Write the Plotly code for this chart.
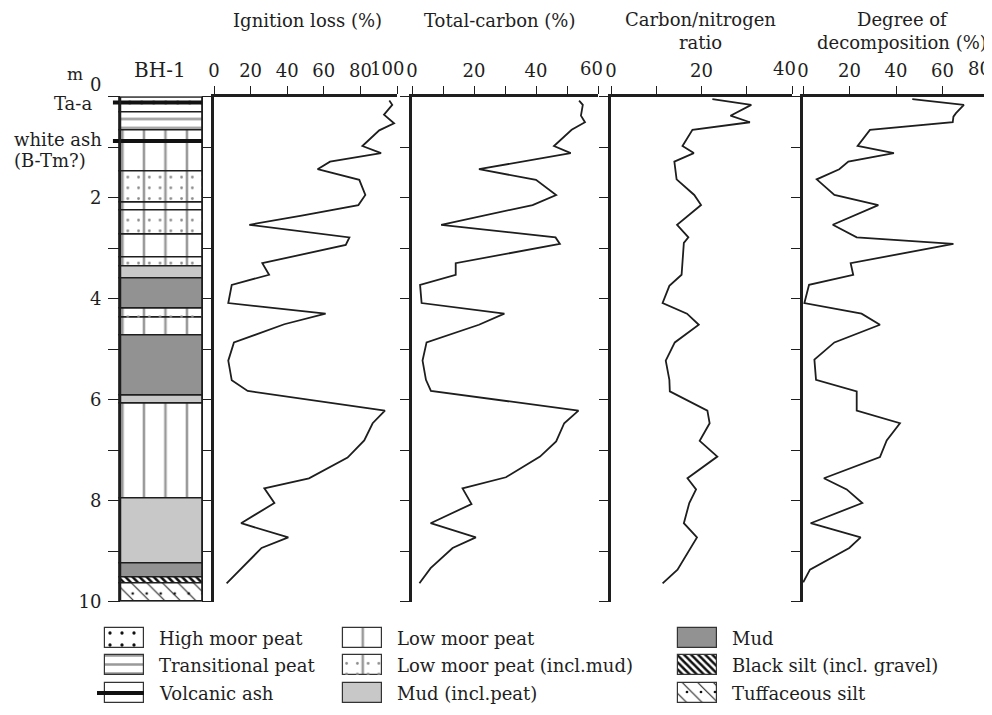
import plotly.graph_objects as go

W, H = 992, 715           # target picture size in the browser
OX, OY = 8, 8             # page body margin offset of the plot div
FW, FH = W - OX, H - OY
def px(x): return (x - OX) / FW
def py(y): return 1 - (y - OY) / FH

# ---------------- data ----------------
ign_depth = [0.08, 0.165, 0.36, 0.53, 0.67, 0.98, 1.12, 1.29, 1.44, 1.65, 1.95, 2.15, 2.36, 2.54, 2.79, 2.94,
             3.30, 3.53, 3.73, 4.09, 4.30, 4.51, 4.87, 5.23, 5.62, 5.83, 6.22, 6.47, 6.81, 7.15, 7.56, 7.76,
             8.05, 8.45, 8.73, 8.94, 9.64]
ign_val = [95.8, 97.4, 92.9, 98.4, 90.3, 81.1, 91.3, 63.4, 56.6, 79.4, 82.7, 78.9, 47.9, 19.3, 74.0, 72.0,
           26.4, 30.1, 9.7, 7.8, 61.0, 38.4, 10.9, 7.8, 9.7, 18.4, 93.4, 86.7, 82.1, 73.0, 51.9, 27.5,
           33.0, 14.8, 40.6, 26.0, 6.9]

tc_depth = [0.08, 0.165, 0.38, 0.51, 0.66, 0.98, 1.12, 1.44, 1.65, 1.95, 2.15, 2.54, 2.79, 2.92, 3.30, 3.53,
            3.73, 4.09, 4.30, 4.52, 4.87, 5.23, 5.61, 5.83, 6.22, 6.47, 6.83, 7.13, 7.54, 7.76, 8.07, 8.45,
            8.73, 8.94, 9.34, 9.64]
tc_val = [53.9, 55.1, 54.5, 55.8, 51.5, 45.8, 51.2, 21.6, 40.0, 46.5, 38.9, 9.4, 46.3, 47.7, 14.1, 14.1,
          2.6, 3.1, 29.8, 21.6, 4.7, 3.4, 4.5, 6.1, 53.7, 49.1, 46.5, 41.3, 30.3, 16.3, 19.2, 6.0,
          20.6, 13.1, 6.0, 2.4]

cn_depth = [0.05, 0.165, 0.38, 0.51, 0.66, 0.98, 1.12, 1.29, 1.64, 1.95, 2.15, 2.54, 2.79, 2.90, 3.53, 3.75,
            4.09, 4.30, 4.52, 4.87, 5.23, 5.61, 5.84, 6.22, 6.47, 6.82, 7.13, 7.56, 7.78, 8.05, 8.45, 8.73,
            9.37, 9.64]
cn_val = [22.4, 31.0, 26.4, 30.7, 18.0, 15.8, 18.3, 14.0, 14.5, 18.4, 19.9, 14.6, 17.1, 16.1, 15.6, 12.9,
          11.4, 16.8, 19.4, 14.1, 12.1, 12.9, 13.0, 21.3, 21.8, 19.6, 23.5, 16.9, 18.8, 17.3, 16.1, 19.0,
          14.7, 11.4]

dd_depth = [0.05, 0.165, 0.33, 0.40, 0.51, 0.66, 0.98, 1.12, 1.29, 1.44, 1.64, 1.95, 2.15, 2.54, 2.79, 2.92,
            3.30, 3.53, 3.73, 4.09, 4.30, 4.52, 4.87, 5.21, 5.61, 5.84, 6.22, 6.47, 6.81, 7.14, 7.56, 7.78,
            8.05, 8.45, 8.73, 8.94, 9.37, 9.62]
dd_val = [47.0, 69.2, 65.8, 64.7, 64.4, 28.8, 23.5, 39.1, 19.5, 15.6, 5.9, 13.5, 32.4, 12.8, 23.1, 64.7,
          20.5, 21.6, 2.6, 0.6, 25.2, 33.1, 13.5, 4.9, 5.6, 23.1, 23.1, 41.7, 36.0, 33.1, 9.0, 18.8,
          25.5, 3.3, 24.8, 19.9, 3.0, 0.1]

litho_top = [0.00, 0.31, 0.68, 1.48, 2.09, 2.25, 2.74, 3.18, 3.36, 3.60, 4.19, 4.37, 4.74, 5.93, 6.07,
             7.97, 9.24, 9.52, 9.65]
litho_bottom = [0.31, 0.68, 1.48, 2.09, 2.25, 2.74, 3.18, 3.36, 3.60, 4.19, 4.37, 4.74, 5.93, 6.07, 7.97,
                9.24, 9.52, 9.65, 10.00]
litho_type = ['High moor peat', 'Transitional peat', 'Low moor peat', 'Low moor peat (incl.mud)',
              'Low moor peat', 'Low moor peat (incl.mud)', 'Low moor peat', 'Low moor peat (incl.mud)',
              'Mud (incl.peat)', 'Mud', 'Low moor peat (incl.mud)', 'Low moor peat', 'Mud',
              'Mud (incl.peat)', 'Low moor peat', 'Mud (incl.peat)', 'Mud', 'Black silt (incl. gravel)',
              'Tuffaceous silt']

ash_depth = [0.12, 0.88]

legend_items = ['High moor peat', 'Transitional peat', 'Volcanic ash',
                'Low moor peat', 'Low moor peat (incl.mud)', 'Mud (incl.peat)',
                'Mud', 'Black silt (incl. gravel)', 'Tuffaceous silt']

depth_ticks = list(range(0, 11))
depth_ticktext = ['', '', '2', '', '4', '', '6', '', '8', '', '10']

# axis ticks; the last label of each panel is written separately (shifted left, as in the original)
ign_ticks = [0, 20, 40, 60, 80, 100]
ign_ticktext = ['0', '20', '40', '60', '80', '']
tc_ticks = [0, 10, 20, 30, 40, 50, 60]
tc_ticktext = ['0', '', '20', '', '40', '', '']
cn_ticks = [0, 10, 20, 30, 40]
cn_ticktext = ['0', '', '20', '', '']
dd_ticks = [0, 20, 40, 60, 80]
dd_ticktext = ['0', '20', '40', '60', '']
end_labels = ['100', '60', '40', '80']
end_shift = [-10, -7, -8, -10]

# ---------------- styles ----------------
FONT = 'DejaVu Serif'
INK = '#1e1e1e'
GRAYLINE = '#9a9a9a'
styles = {
    'High moor peat': dict(bg='white', shape='.', fg='#111', size=12, sol=0.06),
    'Transitional peat': dict(bg='white', shape='-', fg=GRAYLINE, size=9, sol=0.28),
    'Low moor peat': dict(bg='white', shape='|', fg=GRAYLINE, size=21.5, sol=0.12),
    'Low moor peat (incl.mud)': dict(bg='white', shape='|', fg=GRAYLINE, size=21.5, sol=0.12,
                                     dots=dict(shape='.', fg='#8a8a8a', size=10.75, sol=0.05)),
    'Mud (incl.peat)': dict(bg='#c8c8c8', shape=''),
    'Mud': dict(bg='#929292', shape=''),
    'Black silt (incl. gravel)': dict(bg='white', shape='\\', fg='#111', size=5, sol=0.5),
    'Tuffaceous silt': dict(bg='white', shape='\\', fg='#222', size=11, sol=0.1,
                            dots=dict(shape='.', fg='#111', size=14, sol=0.03)),
    'Volcanic ash': dict(bg='white', shape=''),
}

def pattern(st):
    if not st.get('shape'):
        return dict(shape='')
    return dict(shape=st['shape'], fgcolor=st['fg'], bgcolor=st['bg'], size=st['size'],
                solidity=st['sol'])

fig = go.Figure()

# ---------------- lithology column ----------------
order = []
for t in litho_type:
    if t not in order:
        order.append(t)
for t in order:
    idx = [i for i, tt in enumerate(litho_type) if tt == t]
    tops = [litho_top[i] for i in idx]
    thick = [litho_bottom[i] - litho_top[i] for i in idx]
    st = styles[t]
    fig.add_trace(go.Bar(x=[0.5] * len(idx), y=thick, base=tops, width=1, xaxis='x', yaxis='y',
                         marker=dict(color=st['bg'], line=dict(color=INK, width=1.5), pattern=pattern(st)),
                         name=t, hoverinfo='skip'))
    if 'dots' in st:
        d = st['dots']
        fig.add_trace(go.Bar(x=[0.5] * len(idx), y=thick, base=tops, width=1, xaxis='x', yaxis='y',
                             marker=dict(color='rgba(0,0,0,0)', line=dict(width=0),
                                         pattern=dict(shape=d['shape'], fgcolor=d['fg'],
                                                      bgcolor='rgba(0,0,0,0)', size=d['size'],
                                                      solidity=d['sol'])),
                             hoverinfo='skip'))
# ash layers
for a in ash_depth:
    fig.add_trace(go.Scatter(x=[-0.085, 1.0], y=[a, a], mode='lines', xaxis='x', yaxis='y',
                             line=dict(color='#111', width=4), hoverinfo='skip'))

# column frame
fig.add_shape(type='rect', xref='x', yref='y', x0=0, x1=1, y0=litho_top[0], y1=litho_bottom[-1],
              line=dict(color=INK, width=2.5), fillcolor='rgba(0,0,0,0)')

# ---------------- curves ----------------
series = [(ign_val, ign_depth, 'x2', 'y2'), (tc_val, tc_depth, 'x3', 'y3'),
          (cn_val, cn_depth, 'x4', 'y4'), (dd_val, dd_depth, 'x5', 'y5')]
for xv, yv, xa, ya in series:
    fig.add_trace(go.Scatter(x=xv, y=yv, mode='lines', xaxis=xa, yaxis=ya,
                             line=dict(color=INK, width=1.8), hoverinfo='skip'))

# ---------------- legend (drawn as a small subplot) ----------------
col_left = [105, 343, 678]
row_top = [628, 655, 683]
sw_w, sw_h = 39, 20
for i, name in enumerate(legend_items):
    c, r = i // 3, i % 3
    st = styles[name]
    cx = col_left[c] + sw_w / 2
    fig.add_trace(go.Bar(x=[cx], y=[sw_h], base=[row_top[r]], width=sw_w, xaxis='x6', yaxis='y6',
                         marker=dict(color=st['bg'], line=dict(color='#333', width=1.2),
                                     pattern=pattern(st)), hoverinfo='skip'))
    if 'dots' in st:
        d = st['dots']
        fig.add_trace(go.Bar(x=[cx], y=[sw_h], base=[row_top[r]], width=sw_w, xaxis='x6', yaxis='y6',
                             marker=dict(color='rgba(0,0,0,0)', line=dict(width=0),
                                         pattern=dict(shape=d['shape'], fgcolor=d['fg'],
                                                      bgcolor='rgba(0,0,0,0)', size=d['size'],
                                                      solidity=d['sol'])),
                             hoverinfo='skip'))
    if name == 'Volcanic ash':
        ym = row_top[r] + sw_h / 2
        fig.add_trace(go.Scatter(x=[col_left[c] - 8, col_left[c] + sw_w], y=[ym, ym], mode='lines',
                                 xaxis='x6', yaxis='y6', line=dict(color='#111', width=4),
                                 hoverinfo='skip'))
    fig.add_annotation(x=col_left[c] + sw_w + 13, y=row_top[r] + sw_h / 2, xref='x6', yref='y6',
                       text=name, showarrow=False, xanchor='left', yanchor='middle',
                       font=dict(family=FONT, size=18, color=INK))

# ---------------- axes ----------------
tickfont = dict(family=FONT, size=18, color=INK)
ydom = [py(601.5), py(96.5)]

panels = [
    ('xaxis2', 'yaxis2', 'y2', 'x2', [214, 397], [0, 100], ign_ticks, ign_ticktext),
    ('xaxis3', 'yaxis3', 'y3', 'x3', [412, 598], [0, 60], tc_ticks, tc_ticktext),
    ('xaxis4', 'yaxis4', 'y4', 'x4', [611, 792], [0, 40], cn_ticks, cn_ticktext),
    ('xaxis5', 'yaxis5', 'y5', 'x5', [803, 989], [0, 80], dd_ticks, dd_ticktext),
]
layout_axes = {}
for xname, yname, yref, xref, dom, rng, tv, tt in panels:
    layout_axes[xname] = dict(domain=[px(dom[0]), px(dom[1])], range=rng, side='top', anchor=yref,
                              showline=True, linewidth=2.5, linecolor=INK, ticks='outside', ticklen=8,
                              tickwidth=1.2, tickcolor=INK, tickvals=tv, ticktext=tt, tickfont=tickfont,
                              tickangle=0, ticklabeloverflow='allow',
                              showgrid=False, zeroline=False, fixedrange=True, ticklabelstandoff=2,
                              automargin=False)
    layout_axes[yname] = dict(domain=ydom, range=[10, 0], anchor=xref, showline=True, linewidth=3,
                              linecolor=INK, ticks='outside', ticklen=9, tickwidth=1.2, tickcolor=INK,
                              tickvals=depth_ticks, showticklabels=False, showgrid=False,
                              zeroline=False, fixedrange=True, automargin=False)

# lithology axes
col_l, col_r = 120, 203
x_lo = -0.1
dom_l = col_l - (0 - x_lo) * (col_r - col_l)
layout_axes['xaxis'] = dict(domain=[px(dom_l), px(col_r)], range=[x_lo, 1.0], visible=False,
                            fixedrange=True, anchor='y', automargin=False)
layout_axes['yaxis'] = dict(domain=ydom, range=[10, 0], anchor='free', position=px(col_l), side='left',
                            showline=False, ticks='outside', ticklen=12, tickwidth=1.2, tickcolor=INK,
                            tickvals=depth_ticks, ticktext=depth_ticktext, tickfont=tickfont,
                            tickangle=0, showgrid=False, zeroline=False, fixedrange=True,
                            ticklabelstandoff=3, automargin=False)
# legend axes (pixel-like units)
layout_axes['xaxis6'] = dict(domain=[0, 1], range=[OX, OX + FW], visible=False, fixedrange=True,
                             anchor='y6', automargin=False)
layout_axes['yaxis6'] = dict(domain=[0, py(615)], range=[OY + FH, 615], visible=False, fixedrange=True,
                             anchor='x6', automargin=False)

fig.update_layout(template='none', width=FW, height=FH, margin=dict(l=0, r=0, t=0, b=0, pad=0),
                  paper_bgcolor='white', plot_bgcolor='rgba(0,0,0,0)', showlegend=False,
                  barmode='overlay', bargap=0, font=dict(family=FONT, color=INK), **layout_axes)

# last tick label of each panel, pulled left of its tick
for (xname, yname, yref, xref, dom, rng, tv, tt), lab, sh in zip(panels, end_labels, end_shift):
    fig.add_annotation(x=tv[-1], xref=xref, y=py(69), yref='paper', text=lab, showarrow=False,
                       xanchor='center', yanchor='middle', xshift=sh,
                       font=dict(family=FONT, size=18, color=INK))

# ---------------- text annotations ----------------
def ann(x, y, text, size=18, xanchor='center', **kw):
    fig.add_annotation(x=px(x), y=py(y), xref='paper', yref='paper', text=text, showarrow=False,
                       xanchor=xanchor, yanchor='middle', font=dict(family=FONT, size=size, color=INK), **kw)

ann(307, 20, 'Ignition loss (%)')
ann(500, 20, 'Total-carbon (%)')
ann(700, 31, 'Carbon/nitrogen<br>ratio')
ann(902, 31, 'Degree of<br>decomposition (%)')
ann(160, 70, 'BH-1', size=20)
ann(75, 74, 'm', size=17)
ann(95, 84, '0')

fig.add_annotation(x=px(94), y=ash_depth[0], xref='paper', yref='y', text='Ta-a', showarrow=False,
                   xanchor='right', yanchor='middle', yshift=-1, font=dict(family=FONT, size=18, color=INK))
fig.add_annotation(x=px(12), y=ash_depth[1], xref='paper', yref='y', text='white ash', showarrow=False,
                   xanchor='left', yanchor='middle', yshift=1, font=dict(family=FONT, size=18, color=INK))
fig.add_annotation(x=px(12), y=ash_depth[1], xref='paper', yref='y', text='(B-Tm?)', showarrow=False,
                   xanchor='left', yanchor='middle', yshift=-20, font=dict(family=FONT, size=18, color=INK))

fig.write_html('out.html')
